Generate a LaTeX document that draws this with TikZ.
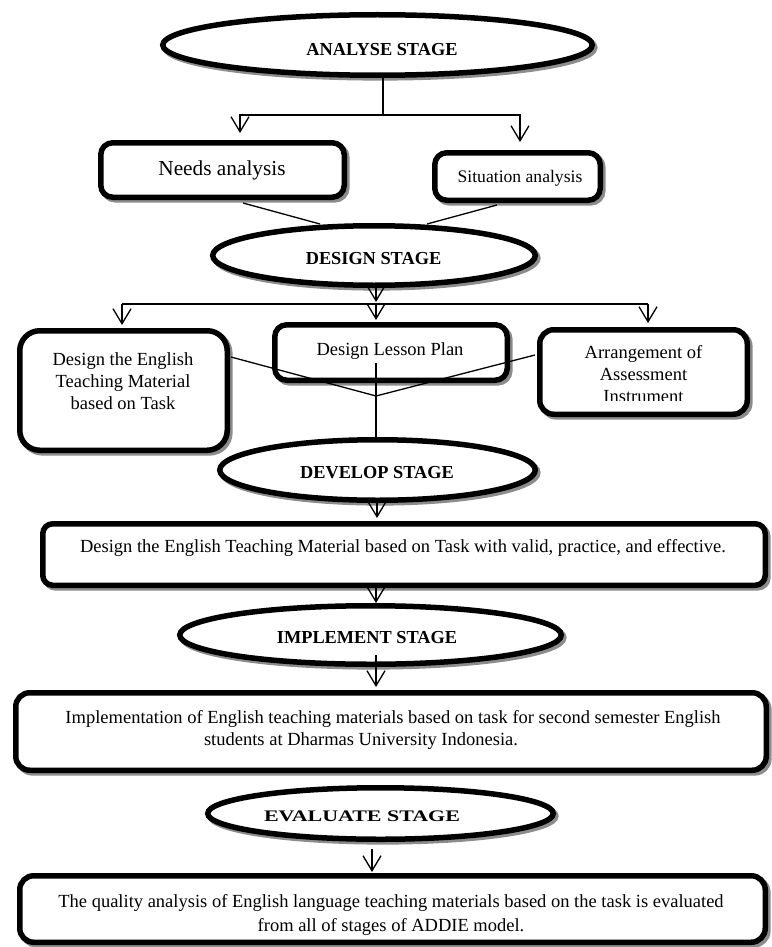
\documentclass[tikz,border=0pt]{standalone}
\usepackage{fontspec}
\setmainfont{Liberation Serif}
\usetikzlibrary{arrows.meta,shapes.geometric}
\begin{document}
\begin{tikzpicture}[x=1pt,y=-1pt,
  shad/.style={preaction={draw=black!45,line width=5.5pt,transform canvas={xshift=2.6pt,yshift=-2.6pt}}},
  stage/.style={ellipse,draw,line width=5.5pt,fill=white,shad,inner sep=0pt},
  box/.style={rectangle,rounded corners=#1,draw,line width=5.5pt,fill=white,shad,inner sep=0pt},
  stagetxt/.style={font=\fontsize{18.3}{22}\selectfont\bfseries,inner sep=0pt},
  txt/.style={font=\fontsize{18.5}{22}\selectfont,align=center,inner sep=0pt},
  conn/.style={line width=1.3pt},
  arr/.style={conn,-{Straight Barb[length=15pt,width=18pt]}}
]
\useasboundingbox (0,0) rectangle (771,947);

% ---------- nodes ----------
\node[stage,minimum width=429.5pt,minimum height=60.5pt] (ana) at (377.5,45) {};
\node[stagetxt] (anat) at (382,50) {ANALYSE STAGE};

\node[box=12pt,minimum width=243.5pt,minimum height=54.5pt] (needs) at (222.5,170) {};
\node[txt,font=\fontsize{21.3}{24}\selectfont] (needst) at (222,170) {Needs analysis};

\node[box=12pt,minimum width=165.5pt,minimum height=47.5pt] (sit) at (517.5,176.5) {};
\node[txt,font=\fontsize{17.6}{21}\selectfont] (sitt) at (520,178) {Situation analysis};

\node[stage,minimum width=322.5pt,minimum height=59.5pt] (des) at (374,255.5) {};
\node[stagetxt] (dest) at (373.5,259) {DESIGN STAGE};

\node[box=20pt,minimum width=207.5pt,minimum height=119.5pt] (lbox) at (123.5,390.5) {};
\node[txt] (lboxt) at (123,381) {Design the English\\Teaching Material\\based on Task};

\node[box=12pt,minimum width=232.5pt,minimum height=55.5pt] (lesson) at (391,352.5) {};
\node[txt] (lessont) at (390,351) {Design Lesson Plan};

\node[box=14pt,minimum width=207.5pt,minimum height=84.5pt] (arrb) at (643.5,372) {};
\begin{scope}
  \clip (537,330) rectangle (750,400.5);
  \node[txt,anchor=north] (arrbt) at (643.5,345) {Arrangement of\\Assessment\\Instrument};
\end{scope}

\node[stage,minimum width=315.5pt,minimum height=60.5pt] (dev) at (377.5,470) {};
\node[stagetxt] (devt) at (377,473) {DEVELOP STAGE};

\node[box=10pt,minimum width=722.5pt,minimum height=61.5pt] (devb) at (404,554.5) {};
\node[txt] (devbt) at (403,548) {Design the English Teaching Material based on Task with valid, practice, and effective.};

\node[stage,minimum width=381.5pt,minimum height=58.5pt] (imp) at (370.5,635) {};
\node[stagetxt] (impt) at (367,638) {IMPLEMENT STAGE};

\node[box=14pt,minimum width=750.5pt,minimum height=77.5pt] (impb) at (391,731.5) {};
\node[txt] (impbt) at (393,730) {Implementation of English teaching materials based on task for second semester English\\students at Dharmas University Indonesia.\hspace*{64pt}};

\node[stage,minimum width=345.5pt,minimum height=51.5pt] (eva) at (380.5,813.5) {};
\node[stagetxt] (evat) at (362,816) {\scalebox{1.2}[0.88]{EVALUATE STAGE}};

\node[box=14pt,minimum width=745.5pt,minimum height=66.5pt] (evab) at (392.5,909) {};
\node[txt,font=\fontsize{18.5}{24}\selectfont] (evabt) at (391,915) {The quality analysis of English language teaching materials based on the task is evaluated\\from all of stages of ADDIE model.};

% ---------- connectors ----------
\coordinate (j1) at (383,115);
\coordinate (n1) at (240,133);
\coordinate (s1) at (520,142);
\draw[conn] (ana.south -| j1) -- (j1);
\draw[arr] (j1) -| (n1);
\draw[arr] (j1) -| (s1);

\coordinate (nb) at (243,203);
\coordinate (dl) at (320,224);
\coordinate (sb) at (497,205);
\coordinate (dr) at (427,224);
\draw[conn] (nb) -- (dl);
\draw[conn] (sb) -- (dr);

\coordinate (j2) at (376,304);
\coordinate (j2t) at (376,302);
\coordinate (l1) at (122,325);
\coordinate (r1) at (648,323);
\coordinate (c1) at (376,320);
\draw[arr] (des.south -| j2) -- (j2t);
\draw[conn] (122,304) -- (648,304);
\draw[arr] (j2 -| l1) -- (l1);
\draw[arr] (j2 -| r1) -- (r1);
\draw[arr] (j2) -- (c1);

\coordinate (x0) at (376,396);
\coordinate (lr) at (231,357);
\coordinate (ar) at (535,355);
\coordinate (v0) at (376,363);
\draw[conn] (lr) -- (x0) -- (ar);
\draw[conn] (v0) -- (dev.north -| v0);

\coordinate (t3) at (377,518);
\draw[arr] (dev.south -| t3) -- (t3);
\coordinate (t4) at (376,603);
\draw[arr] (devb.south -| t4) -- (t4);
\coordinate (s5) at (376,655);
\coordinate (t5) at (376,687);
\draw[arr] (s5) -- (t5);
\coordinate (s6) at (372,849);
\coordinate (t6) at (372,872);
\draw[arr] (s6) -- (t6);
\end{tikzpicture}
\end{document}
